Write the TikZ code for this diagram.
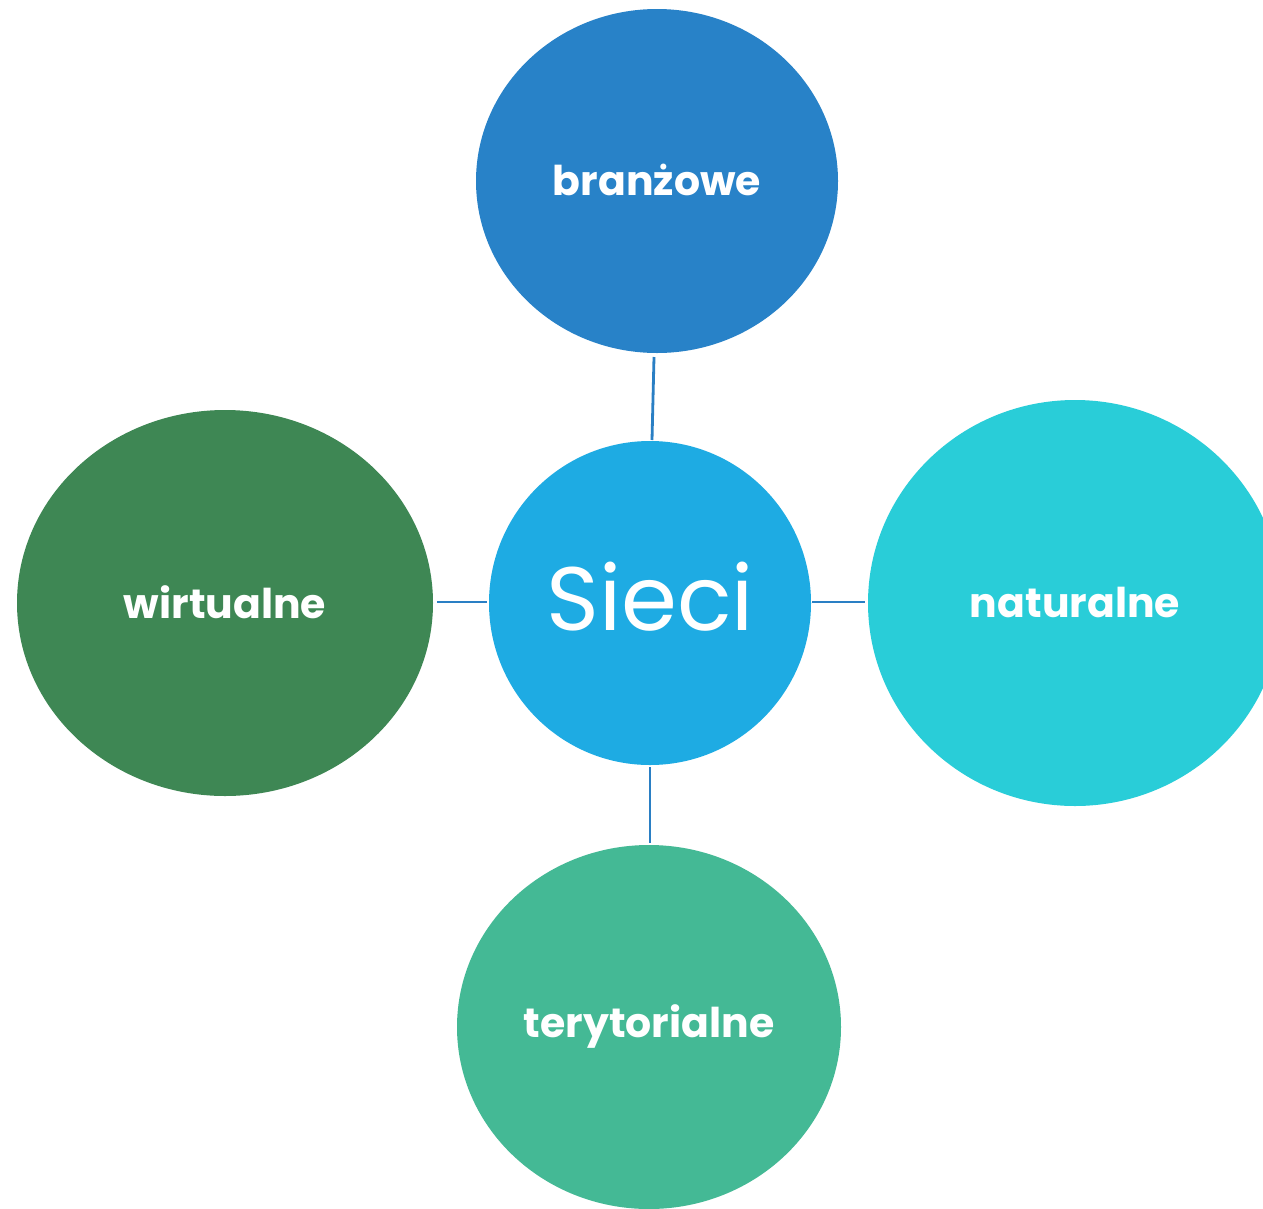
\documentclass[tikz,border=0pt]{standalone}
\usepackage{fontspec}
\setmainfont{Poppins}
\definecolor{ctop}{HTML}{2882C8}
\definecolor{ccen}{HTML}{1EABE3}
\definecolor{cleft}{HTML}{3E8754}
\definecolor{cright}{HTML}{29CDD8}
\definecolor{cbot}{HTML}{44B995}
\definecolor{cline}{HTML}{2A7FC4}
\tikzset{
  bubble/.style={ellipse, draw=none, text=white, inner sep=0pt},
  lbl/.style={font=\fontsize{41}{48}\selectfont\bfseries},
  conn/.style={draw=cline, line width=2.8pt}
}
\usetikzlibrary{shapes.geometric}
\begin{document}
\begin{tikzpicture}[x=1pt,y=-1pt]
\clip (0,0) rectangle (1263,1208);
\fill[white] (0,0) rectangle (1263,1208);
\node[bubble, fill=ctop, minimum width=362pt, minimum height=344pt] (top) at (657,181) {};
\node[bubble, fill=ccen, minimum width=322pt, minimum height=324pt] (cen) at (650,603) {};
\node[bubble, fill=cleft, minimum width=416pt, minimum height=386pt] (left) at (225,603) {};
\node[bubble, fill=cright, minimum width=414pt, minimum height=406pt] (right) at (1075,603) {};
\node[bubble, fill=cbot, minimum width=384pt, minimum height=364pt] (bot) at (649,1027) {};
\node[text=white, lbl] (ttop) at (657,180) {branżowe};
\node[text=white, font=\fontsize{90}{104}\selectfont] (tcen) at (650,597) {Sieci};
\node[text=white, lbl] (tleft) at (225,602) {wirtualne};
\node[text=white, lbl] (tright) at (1075,602) {naturalne};
\node[text=white, lbl] (tbot) at (649,1026) {terytorialne};
\coordinate (a1) at (654,357); \coordinate (a2) at (652,440);
\coordinate (b1) at (437,602); \coordinate (b2) at (487,602);
\coordinate (c1) at (812,602); \coordinate (c2) at (865,602);
\coordinate (d1) at (650,767); \coordinate (d2) at (650,843);
\draw[conn] (a1) -- (a2);
\draw[conn] (b1) -- (b2);
\draw[conn] (c1) -- (c2);
\draw[conn] (d1) -- (d2);
\end{tikzpicture}
\end{document}
